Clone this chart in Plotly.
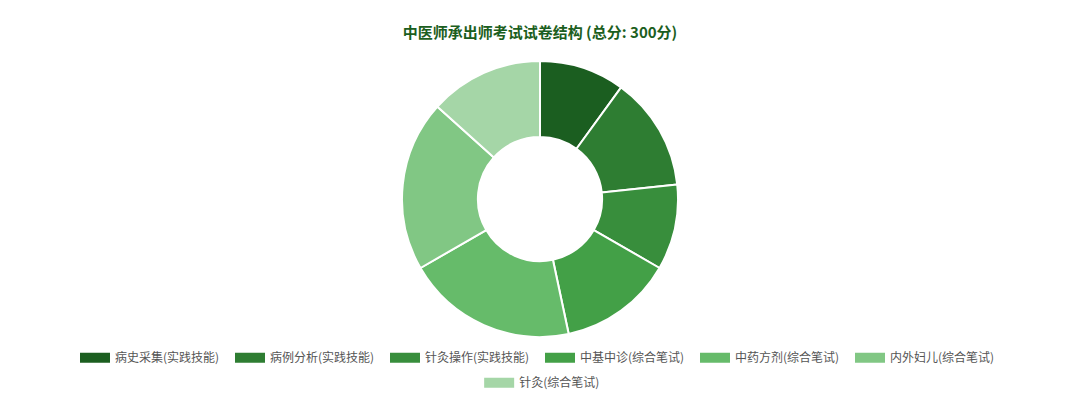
import plotly.graph_objects as go

labels = ["病史采集(实践技能)", "病例分析(实践技能)", "针灸操作(实践技能)",
          "中基中诊(综合笔试)", "中药方剂(综合笔试)", "内外妇儿(综合笔试)", "针灸(综合笔试)"]
values = [30, 40, 30, 40, 60, 60, 40]
colors = ["#1b5e20", "#2e7d32", "#388e3c", "#43a047", "#66bb6a", "#81c784", "#a5d6a7"]

FONT = "Noto Sans CJK SC, Noto Sans, sans-serif"

fig = go.Figure()
fig.add_trace(go.Pie(
    labels=labels, values=values, hole=0.45, sort=False, direction="clockwise",
    rotation=0, textinfo="none", showlegend=False,
    marker=dict(colors=colors, line=dict(color="#ffffff", width=2)),
    hovertemplate="%{label}: %{value}分<extra></extra>",
))
for i, (lab, col) in enumerate(zip(labels, colors)):
    fig.add_trace(go.Scatter(
        x=[None], y=[None], mode="lines", name=lab,
        line=dict(color=col, width=11), hoverinfo="skip",
        legend="legend" if i < 6 else "legend2",
    ))

leg_common = dict(orientation="h", xanchor="center", yanchor="top",
                  font=dict(family=FONT, size=12, color="#555555"),
                  itemwidth=30, entrywidthmode="pixels",
                  bgcolor="rgba(0,0,0,0)")

fig.update_layout(
    width=1080, height=413,
    margin=dict(l=0, r=0, t=61, b=76),
    paper_bgcolor="#ffffff", plot_bgcolor="#ffffff",
    title=dict(text="<b>中医师承出师考试试卷结构 (总分: 300分)</b>", x=0.5, xanchor="center",
               y=1 - 33 / 413, yanchor="middle",
               font=dict(family=FONT, size=15, color="#1b5e20")),
    xaxis=dict(visible=False), yaxis=dict(visible=False),
    legend=dict(x=0.5, y=-0.0228, entrywidth=110, **leg_common),
    legend2=dict(x=0.502, y=-0.1133, entrywidth=0, **leg_common),
    font=dict(family=FONT),
)

fig.write_html("out.html")
